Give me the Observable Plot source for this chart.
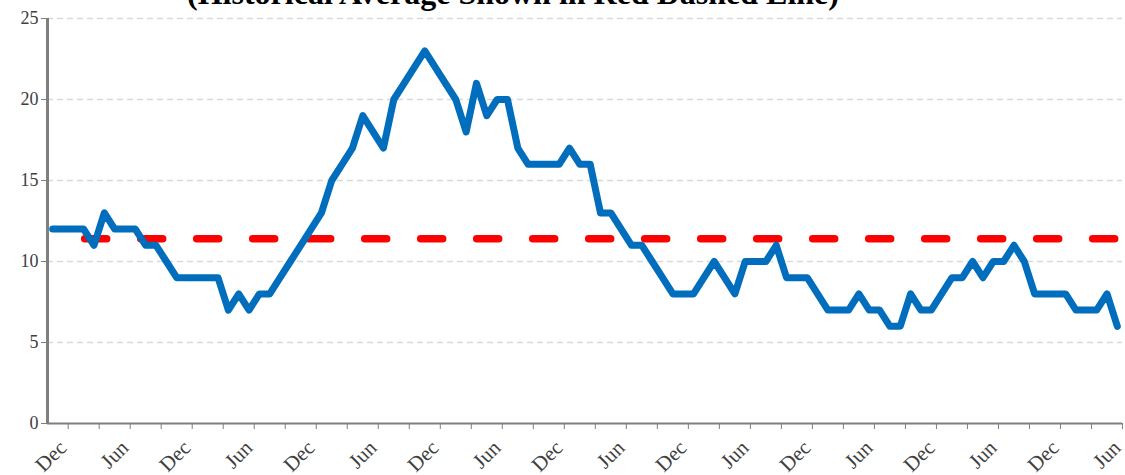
<!DOCTYPE html>
<html>
<head>
<meta charset="utf-8">
<script src="https://cdn.jsdelivr.net/npm/d3@7"></script>
<script src="https://cdn.jsdelivr.net/npm/@observablehq/plot@0.6"></script>
<style>
  body { margin: 0; background: #fff; overflow: hidden; }
  #wrap { position: relative; width: 1125px; height: 475px; overflow: hidden; background: #fff; }
  #title { position: absolute; left: 0; width: 1026px; top: -23px; text-align: center;
           font: bold 32px "Liberation Serif", "Times New Roman", serif; line-height: 1; color: #000; white-space: nowrap; }
  #chart { position: absolute; left: 0; top: 0; }
</style>
</head>
<body>
<div id="wrap">
  <div id="title"></div>
  <div id="chart"></div>
</div>
<script>
// Monthly series (first month = Oct, last = May)
const values = [
  12, 12, 12, 12, 11, 13, 12, 12, 12, 11,
  11, 10, 9, 9, 9, 9, 9, 7, 8, 7,
  8, 8, 9, 10, 11, 12, 13, 15, 16, 17,
  19, 18, 17, 20, 21, 22, 23, 22, 21, 20,
  18, 21, 19, 20, 20, 17, 16, 16, 16, 16,
  17, 16, 16, 13, 13, 12, 11, 11, 10, 9,
  8, 8, 8, 9, 10, 9, 8, 10, 10, 10,
  11, 9, 9, 9, 8, 7, 7, 7, 8, 7,
  7, 6, 6, 8, 7, 7, 8, 9, 9, 10,
  9, 10, 10, 11, 10, 8, 8, 8, 8, 7,
  7, 7, 8, 6
];
const historicalAverage = 11.4;
const tickMonthLabels = ["Dec", "Jun"];   // labels alternate on every other quarterly tick
const yTicks = [0, 5, 10, 15, 20, 25];
const titleText = "(Historical Average Shown in Red Dashed Line)";

document.getElementById("title").textContent = titleText;

const n = values.length;
const data = values.map((v, i) => ({i, v}));
const avgData = [{i: 0, v: historicalAverage}, {i: n - 1, v: historicalAverage}];
// quarterly tick positions at month boundaries, starting at the first December
const xTicks = d3.range(0, 35).map(k => 1.5 + 3 * k);
const labelTicks = xTicks.filter((d, k) => k % 2 === 0);

const font = "Liberation Serif, Times New Roman, serif";

const chart = Plot.plot({
  width: 1125,
  height: 475,
  marginTop: 18,
  marginBottom: 52,
  marginLeft: 47,
  marginRight: 3,
  style: {fontFamily: font, fontSize: "17px", background: "transparent", overflow: "visible"},
  x: {domain: [-0.5, n - 0.5], axis: null, label: null},
  y: {domain: [0, 25], axis: null, label: null},
  marks: [
    Plot.gridY(yTicks.filter(d => d > 0), {stroke: "#d9d9d9", strokeOpacity: 1, strokeWidth: 1.5, strokeDasharray: "6,4"}),
    Plot.axisY(yTicks, {label: null, tickSize: 6, tickPadding: 3, stroke: "#7f7f7f", fontSize: 18, fill: "#404040",
      tickFormat: d => String(d)}),
    Plot.axisX(xTicks, {label: null, tickSize: 6, stroke: "#7f7f7f", tickFormat: () => ""}),
    Plot.text(labelTicks, {x: d => d, y: 0, text: d => tickMonthLabels[Math.round((d - 1.5) / 6) % 2],
      rotate: -45, textAnchor: "end", lineAnchor: "top", fontSize: 21, fill: "#404040", dx: -11, dy: 15}),
    Plot.ruleX([-0.5], {stroke: "#7f7f7f", strokeWidth: 3}),
    Plot.ruleY([0], {stroke: "#7f7f7f", strokeWidth: 2}),
    Plot.line(avgData, {x: "i", y: "v", stroke: "#ff0000", strokeWidth: 7.5, strokeDasharray: "22,34",
      strokeDashoffset: 24, strokeLinecap: "round"}),
    Plot.line(data, {x: "i", y: "v", stroke: "#006ebc", strokeWidth: 7, strokeLinejoin: "round", strokeLinecap: "round"})
  ]
});
document.getElementById("chart").appendChild(chart);
</script>
</body>
</html>
